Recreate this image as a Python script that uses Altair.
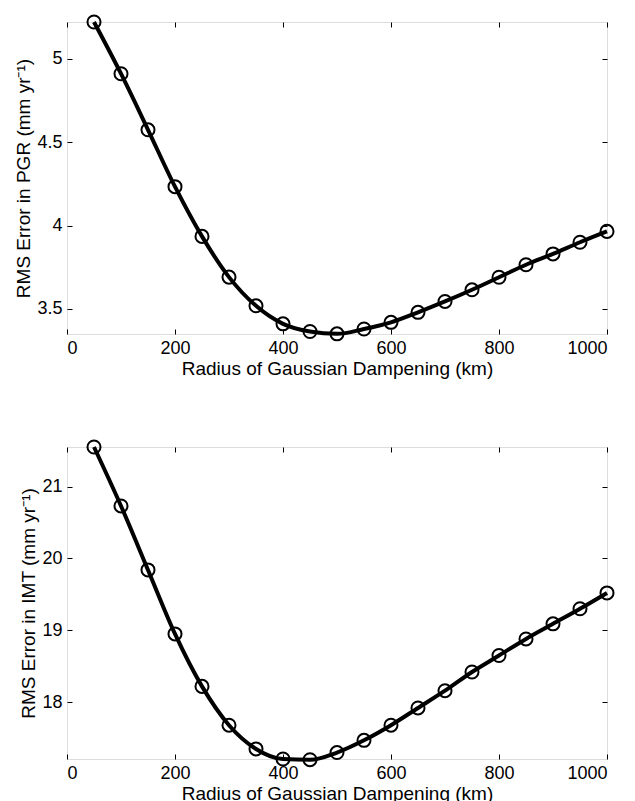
import altair as alt
import pandas as pd

radius = [50, 100, 150, 200, 250, 300, 350, 400, 450, 500,
          550, 600, 650, 700, 750, 800, 850, 900, 950, 1000]
pgr_rms = [5.22, 4.91, 4.574, 4.233, 3.935, 3.691, 3.519, 3.411, 3.365, 3.351,
           3.38, 3.42, 3.48, 3.545, 3.615, 3.69, 3.765, 3.83, 3.90, 3.965]
imt_rms = [21.55, 20.73, 19.84, 18.95, 18.22, 17.68, 17.35, 17.21, 17.20, 17.30,
           17.47, 17.68, 17.92, 18.16, 18.42, 18.65, 18.88, 19.09, 19.30, 19.52]

x_ticks = [0, 200, 400, 600, 800, 1000]
pgr_ticks = [3.5, 4, 4.5, 5]
imt_ticks = [18, 19, 20, 21]
x_title = "Radius of Gaussian Dampening (km)"
pgr_title = "RMS Error in PGR (mm yr\u207b\u00b9)"
imt_title = "RMS Error in IMT (mm yr\u207b\u00b9)"

FONT = "Liberation Sans"


def panel(values, ytitle, ydomain, yticks):
    df = pd.DataFrame({"r": radius, "v": values})
    base = alt.Chart(df)
    xs = alt.Scale(domain=[0, 1000], nice=False, zero=False)
    ys = alt.Scale(domain=ydomain, nice=False, zero=False)
    line = base.mark_line(color="black", strokeWidth=4, interpolate="monotone").encode(
        x=alt.X("r:Q", scale=xs, axis=alt.Axis(
            values=x_ticks, title=x_title, orient="bottom", domain=False, format="d",
            tickSize=5, offset=-5, tickColor="black", labelPadding=5,
            labelFontSize=18, titleFontSize=19, titleFontWeight="normal",
            titlePadding=2, grid=False)),
        y=alt.Y("v:Q", scale=ys, axis=alt.Axis(
            values=yticks, title=ytitle, orient="left", format="~g", domain=False,
            tickSize=5, offset=-5, tickColor="black", labelPadding=5,
            labelFontSize=18, titleFontSize=19, titleFontWeight="normal",
            titlePadding=3, grid=False)),
    )
    pts = base.mark_point(shape="circle", size=170, filled=False, color="black",
                          strokeWidth=2, opacity=1).encode(
        x=alt.X("r:Q", scale=xs, axis=alt.Axis(
            values=x_ticks, title=None, orient="top", labels=False, domain=False,
            tickSize=5, offset=-5, tickColor="black", grid=False)),
        y=alt.Y("v:Q", scale=ys, axis=alt.Axis(
            values=yticks, title=None, orient="right", labels=False, domain=False,
            tickSize=5, offset=-5, tickColor="black", grid=False)),
    )
    return alt.layer(line, pts).resolve_axis(x="independent", y="independent").properties(
        width=540, height=312)


top = panel(pgr_rms, pgr_title, [3.35, 5.22], pgr_ticks)
bottom = panel(imt_rms, imt_title, [17.21, 21.55], imt_ticks)

chart = alt.vconcat(top, bottom, spacing=56).properties(
    padding={"left": 6, "top": 2, "right": 5, "bottom": 5}
).configure_view(
    stroke="black", strokeWidth=1.2
).configure_axis(
    labelFont=FONT, titleFont=FONT, labelColor="black", titleColor="black"
).configure(background="white")

chart.save("out.html", embed_options={"renderer": "svg", "actions": False})
